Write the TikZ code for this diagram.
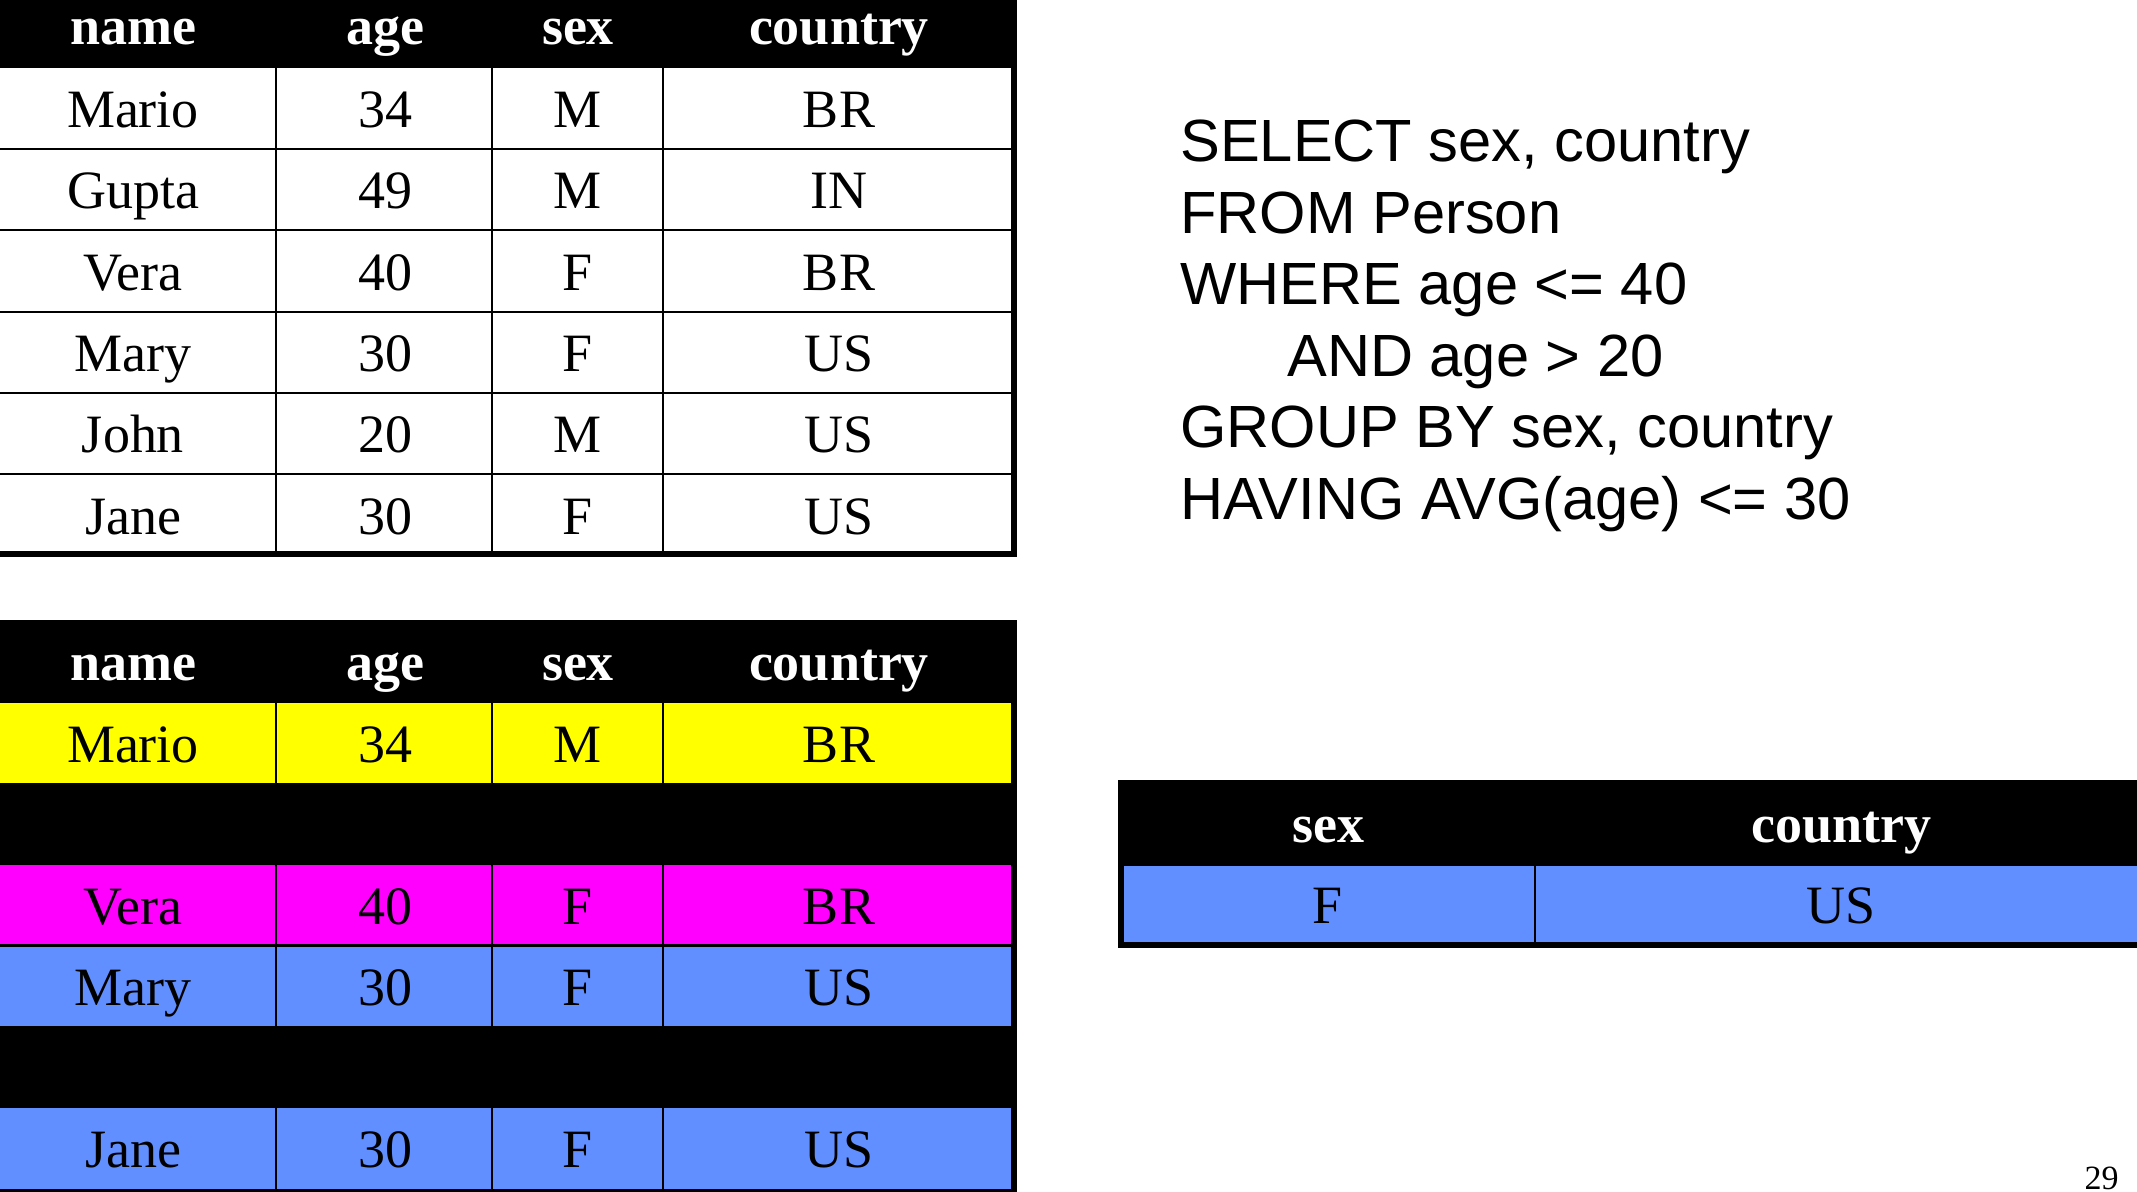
\documentclass[tikz,border=0pt]{standalone}
\usepackage{fontspec}
\setmainfont{Liberation Serif}
\newfontfamily\sqlfont{Liberation Sans}
\definecolor{selblue}{RGB}{97,143,255}
\definecolor{selyellow}{RGB}{255,255,0}
\definecolor{selmag}{RGB}{255,0,255}
\begin{document}
\begin{tikzpicture}[x=0.5pt,y=-0.5pt,
  cell/.style={anchor=base,inner sep=0pt,font=\fontsize{27}{30}\selectfont},
  head/.style={anchor=base,inner sep=0pt,text=white,font=\fontsize{27}{30}\selectfont\bfseries},
  gridline/.style={line width=1.25pt},
  borderline/.style={line width=3pt},
  sql/.style={anchor=base west,inner sep=0pt,font=\sqlfont\fontsize{29.8}{34}\selectfont}]
\useasboundingbox (0,0) rectangle (2137,1192);
\fill[white] (0,0) rectangle (2137,1192);

% ---------- top table ----------
\fill[black] (0,0) rectangle (1017,68);
\foreach \yy in {149,230,312,393,474} \draw[gridline] (0,\yy) -- (1014,\yy);
\foreach \xx in {276,492,663} \draw[gridline] (\xx,68) -- (\xx,556);
\draw[borderline] (0,553.5) -- (1017,553.5);
\draw[borderline] (1014,68) -- (1014,556.5);
\foreach \xx/\t in {133/name,385/age,578/sex,839/country}
  \node[head] (ha-\t) at (\xx,45) {\t};
\foreach \yy/\n/\a/\s/\c [count=\i] in {128/Mario/34/M/BR,209/Gupta/49/M/IN,291/Vera/40/F/BR,372/Mary/30/F/US,453/John/20/M/US,534/Jane/30/F/US}{
  \node[cell] (a\i-name) at (133,\yy) {\n};
  \node[cell] (a\i-age) at (385,\yy) {\a};
  \node[cell] (a\i-sex) at (578,\yy) {\s};
  \node[cell] (a\i-country) at (839,\yy) {\c};
}

% ---------- SQL ----------
\node[sql] (q1) at (1180,162) {SELECT sex, country};
\node[sql] (q2) at (1180,233.5) {FROM Person};
\node[sql] (q3) at (1180,305) {WHERE age <= 40};
\node[sql] (q4) at (1287,376.5) {AND age > 20};
\node[sql] (q5) at (1180,448) {GROUP BY sex, country};
\node[sql] (q6) at (1180,519.5) {HAVING AVG(age) <= 30};

% ---------- grouped table ----------
\fill[black] (0,620) rectangle (1017,1192);
\fill[selyellow] (0,703) rectangle (1014,783);
\fill[selmag] (0,865) rectangle (1014,946);
\fill[selblue] (0,946) rectangle (1014,1026);
\fill[selblue] (0,1108) rectangle (1014,1189);
\draw[gridline] (0,945.5) -- (1014,945.5);
\foreach \xx in {276,492,663} \draw[gridline] (\xx,703) -- (\xx,1192);
\draw[borderline] (1014,703) -- (1014,1192);
\foreach \xx/\t in {133/name,385/age,578/sex,839/country}
  \node[head] (hb-\t) at (\xx,680) {\t};
\foreach \yy/\n/\a/\s/\c [count=\i] in {762/Mario/34/M/BR,924/Vera/40/F/BR,1005/Mary/30/F/US,1167/Jane/30/F/US}{
  \node[cell] (b\i-name) at (133,\yy) {\n};
  \node[cell] (b\i-age) at (385,\yy) {\a};
  \node[cell] (b\i-sex) at (578,\yy) {\s};
  \node[cell] (b\i-country) at (839,\yy) {\c};
}

% ---------- result table ----------
\fill[black] (1118,780) rectangle (2137,866);
\fill[selblue] (1121,866) rectangle (2137,945);
\draw[borderline] (1121,780) -- (1121,948);
\draw[borderline] (1118,945) -- (2137,945);
\draw[gridline] (1535,866) -- (1535,945);
\node[head] (hr-sex) at (1328,842) {sex};
\node[head] (hr-country) at (1841,842) {country};
\node[cell] (r-sex) at (1328,923) {F};
\node[cell] (r-country) at (1841,923) {US};

% ---------- page number ----------
\node[anchor=base east,inner sep=0pt,font=\fontsize{17}{20}\selectfont] (pageno) at (2119,1189) {29};
\end{tikzpicture}
\end{document}
